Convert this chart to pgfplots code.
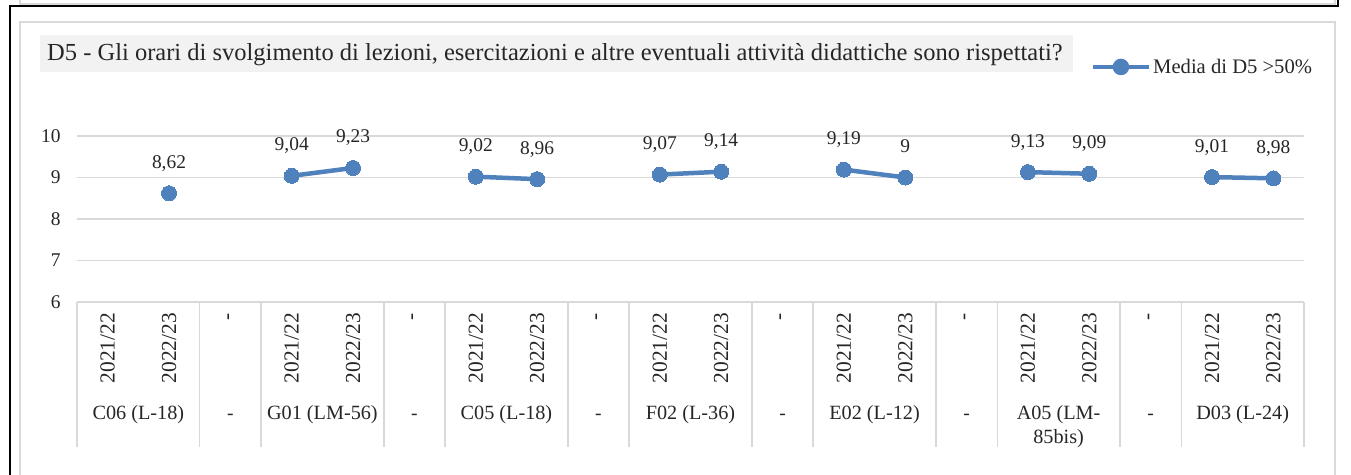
\documentclass[border=0pt]{standalone}
\usepackage{fontspec}
\setmainfont{Liberation Serif}
\usepackage{pgfplots}
\usepackage{pgfplotstable}
\pgfplotsset{compat=1.18}
\definecolor{serie}{HTML}{4F81BD}
\definecolor{gridc}{HTML}{D9D9D9}
\definecolor{titlebg}{HTML}{F2F2F2}
\definecolor{txt}{HTML}{262626}

\pgfplotstableread{
x y
0 nan
1 8.62
2 nan
3 9.04
4 9.23
5 nan
6 9.02
7 8.96
8 nan
9 9.07
10 9.14
11 nan
12 9.19
13 9
14 nan
15 9.13
16 9.09
17 nan
18 9.01
19 8.98
}\datatable

\begin{document}
\begin{tikzpicture}[font=\fontsize{19.5}{23}\selectfont]
\useasboundingbox (0,0) rectangle (1351bp,475bp);
% outer frames
\draw[gridc, line width=1.5bp] (20bp,476bp) -- (20bp,471bp) -- (1335bp,471bp) -- (1335bp,476bp);
\draw[black, line width=2bp] (10bp,-2bp) -- (10bp,469bp) -- (1338bp,469bp) -- (1338bp,477bp);
\draw[gridc, line width=1.5bp] (20bp,-5bp) -- (20bp,453bp) -- (1335bp,453bp) -- (1335bp,-5bp);
% title
\fill[titlebg] (40bp,403bp) rectangle (1073bp,440bp);
\node[anchor=base west, inner sep=0pt, text=txt, font=\fontsize{24.6}{28}\selectfont] at (47bp,414bp)
  {D5 - Gli orari di svolgimento di lezioni, esercitazioni e altre eventuali attività didattiche sono rispettati?};

\begin{axis}[
  at={(77bp,173bp)}, anchor=south west,
  scale only axis, width=1227bp, height=166bp,
  xmin=-0.5, xmax=19.5, ymin=6, ymax=10,
  clip=false, unbounded coords=jump,
  axis line style={draw=none},
  ymajorgrids, grid style={gridc, line width=1.5bp},
  major tick length=0pt,
  ytick={6,7,8,9,10},
  yticklabel style={xshift=-13bp, text=txt},
  xtick={0,...,19},
  xticklabels={2021/22,2022/23,-,2021/22,2022/23,-,2021/22,2022/23,-,2021/22,2022/23,-,2021/22,2022/23,-,2021/22,2022/23,-,2021/22,2022/23},
  xticklabel style={rotate=90, anchor=east, inner xsep=11bp, inner ysep=0pt, text=txt, font=\fontsize{21.5}{24}\selectfont},
  /pgf/number format/assume math mode=true,
  /pgf/number format/use comma,
  /pgf/number format/fixed,
  /pgf/number format/precision=2,
  nodes near coords,
  every node near coord/.append style={anchor=base, yshift=25bp, inner sep=0pt, text=txt},
  legend style={at={(0.826,1.416)}, anchor=west, draw=none, fill=none, inner sep=0pt,
     cells={anchor=west}, text=txt, font=\fontsize{20.7}{24}\selectfont},
  legend image code/.code={\draw[line width=4.5bp] (0bp,0bp) -- (56bp,0bp); \fill (28bp,0bp) circle (6bp);},
]
\addplot[serie, line width=4.5bp, mark=*, mark size=7.5bp, mark options={fill=serie, draw=serie, line width=0pt}]
  table[x=x, y=y] {\datatable};
\addlegendentry{Media di D5 >50\%}
% table lines below the axis
\pgfplotsinvokeforeach{-0.5,1.5,2.5,4.5,5.5,7.5,8.5,10.5,11.5,13.5,14.5,16.5,17.5,19.5}{
  \draw[gridc, line width=1.5bp] (axis cs:#1,6) -- ++(0bp,-145bp);
}
% group labels
\node[anchor=base, text=txt, yshift=-117bp, font=\fontsize{20.3}{24}\selectfont] at (axis cs:0.5,6) {C06 (L-18)};
\node[anchor=base, text=txt, yshift=-117bp, font=\fontsize{20.3}{24}\selectfont] at (axis cs:3.5,6) {G01 (LM-56)};
\node[anchor=base, text=txt, yshift=-117bp, font=\fontsize{20.3}{24}\selectfont] at (axis cs:6.5,6) {C05 (L-18)};
\node[anchor=base, text=txt, yshift=-117bp, font=\fontsize{20.3}{24}\selectfont] at (axis cs:9.5,6) {F02 (L-36)};
\node[anchor=base, text=txt, yshift=-117bp, font=\fontsize{20.3}{24}\selectfont] at (axis cs:12.5,6) {E02 (L-12)};
\node[anchor=base, text=txt, yshift=-117bp, font=\fontsize{20.3}{24}\selectfont] at (axis cs:15.5,6) {A05 (LM-};
\node[anchor=base, text=txt, yshift=-141bp, font=\fontsize{20.3}{24}\selectfont] at (axis cs:15.5,6) {85bis)};
\node[anchor=base, text=txt, yshift=-117bp, font=\fontsize{20.3}{24}\selectfont] at (axis cs:18.5,6) {D03 (L-24)};
\pgfplotsinvokeforeach{2,5,8,11,14,17}{
  \node[anchor=base, text=txt, yshift=-117bp] at (axis cs:#1,6) {-};
}
\end{axis}
\end{tikzpicture}
\end{document}
